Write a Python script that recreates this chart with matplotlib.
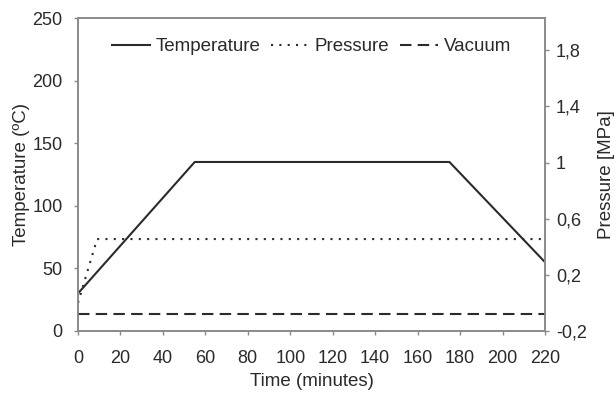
import matplotlib
matplotlib.use("Agg")
import matplotlib.pyplot as plt
from matplotlib.ticker import FuncFormatter

plt.rcParams['font.family'] = ['Liberation Sans', 'DejaVu Sans']

# data
temp_time = [0, 55, 175, 220]
temp_vals = [30, 135, 135, 55]
pres_time = [0, 9, 220]
pres_vals = [0.0, 0.455, 0.455]
vac_time = [0, 220]
vac_vals = [-0.08, -0.08]

x_ticks = list(range(0, 221, 20))
temp_ticks = [0, 50, 100, 150, 200, 250]
pres_ticks = [-0.2, 0.2, 0.6, 1.0, 1.4, 1.8]

line_col = '#2b2b2b'
axis_col = '#8a8a8a'
text_col = '#2a2a2a'

fig = plt.figure(figsize=(6.16, 3.94), dpi=100)
ax = fig.add_axes([0.1266, 0.1599, 0.7581, 0.7944])
ax2 = ax.twinx()

l1, = ax.plot(temp_time, temp_vals, color=line_col, lw=1.5, label='Temperature')
l2, = ax2.plot(pres_time, pres_vals, color=line_col, lw=1.5, ls=(0, (1, 3)), label='Pressure')
l3, = ax2.plot(vac_time, vac_vals, color=line_col, lw=1.5, ls=(0, (5.5, 3)), label='Vacuum')

ax.set_xlim(0, 220)
ax.set_ylim(0, 250)
ax2.set_ylim(-0.2, 2.03)
ax.set_xticks(x_ticks)
ax.set_yticks(temp_ticks)
ax2.set_yticks(pres_ticks)
ax2.yaxis.set_major_formatter(FuncFormatter(lambda v, p: ('%g' % round(v, 1)).replace('.', ',')))

for a in (ax, ax2):
    for s in a.spines.values():
        s.set_color(axis_col)
        s.set_linewidth(1.2)
    a.tick_params(colors=axis_col, labelcolor=text_col, labelsize=13, length=3, width=1.0)

ax.tick_params(axis='x', pad=11)
ax.tick_params(axis='y', pad=8)
ax2.tick_params(axis='y', pad=5)

ax.set_xlabel('Time (minutes)', fontsize=13.5, color=text_col, labelpad=4)
ax.set_ylabel('Temperature (ºC)', fontsize=13.5, color=text_col, labelpad=2)
ax2.set_ylabel('Pressure [MPa]', fontsize=13.5, color=text_col, labelpad=8)

leg = ax.legend(handles=[l1, l2, l3], loc='upper center', bbox_to_anchor=(0.5, 0.99),
                ncol=3, frameon=False, fontsize=13.5, handlelength=2.0,
                handletextpad=0.3, columnspacing=0.6)
for t in leg.get_texts():
    t.set_color(text_col)

fig.savefig('out.png', dpi=100)
